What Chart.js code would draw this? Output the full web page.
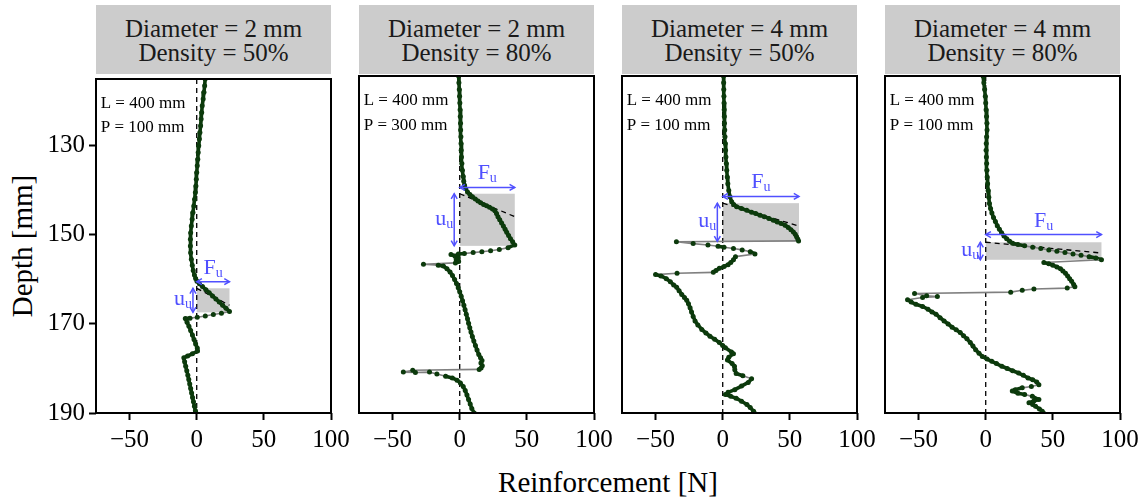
<!DOCTYPE html>
<html>
<head>
<meta charset="utf-8">
<script src="https://cdn.jsdelivr.net/npm/chart.js@4.4.1/dist/chart.umd.min.js"></script>
<style>
  html, body { margin: 0; padding: 0; background: #ffffff; }
  body { width: 1147px; height: 500px; position: relative; overflow: hidden; font-family: "Liberation Serif", "DejaVu Serif", serif; }
  .strip { position: absolute; top: 5px; height: 69px; width: 235px; background: #cccccc; color: #1a1a1a;
           display: flex; flex-direction: column; justify-content: center; align-items: center;
           font-size: 25px; line-height: 24px; padding-top: 2px; box-sizing: border-box; }
  .ytitle { position: absolute; left: 22px; top: 246px; transform: translate(-50%, -50%) rotate(-90deg);
            font-size: 29px; white-space: nowrap; color: #000; }
  .xtitle { position: absolute; left: 608px; top: 482px; transform: translate(-50%, -50%);
            font-size: 29px; white-space: nowrap; color: #000; }
  canvas { position: absolute; }
</style>
</head>
<body>
<div class="ytitle">Depth [mm]</div>
<div class="xtitle">Reinforcement [N]</div>
<script>
// ---------- tick labels / categories ----------
const xTicks = [-50, 0, 50, 100];
const yTicks = [130, 150, 170, 190];
const stripTop = ['Diameter = 2 mm', 'Diameter = 2 mm', 'Diameter = 4 mm', 'Diameter = 4 mm'];
const stripBottom = ['Density = 50%', 'Density = 80%', 'Density = 50%', 'Density = 80%'];
const lengthNotes = ['L = 400 mm', 'L = 400 mm', 'L = 400 mm', 'L = 400 mm'];
const spacingNotes = ['P = 100 mm', 'P = 300 mm', 'P = 100 mm', 'P = 100 mm'];

// ---------- series: depth [mm] and reinforcement force [N] ----------
const depth1 = [115.0,116.5,118.0,119.5,121.0,122.5,124.0,125.5,127.0,128.5,130.0,131.5,133.0,134.5,136.0,137.5,139.0,140.5,142.0,143.5,145.0,146.5,148.0,149.5,151.0,152.5,154.0,155.5,156.8,158.0,159.0,159.8,160.4,161.0,161.6,162.3,163.0,163.7,164.4,165.1,165.8,166.5,167.2,167.6,167.9,168.2,168.5,168.7,168.8,169.6,170.5,171.5,172.5,173.5,174.5,175.4,176.1,176.7,177.2,177.6,178.5,179.5,180.5,181.5,182.5,183.5,184.5,185.5,186.5,187.5,188.5,189.5,190.0];
const force1 = [6.3,5.9,5.4,4.8,4.1,3.7,3.3,2.9,2.4,2.0,1.5,1.1,0.8,0.4,0.0,-0.3,-0.6,-1.0,-1.6,-2.2,-2.8,-3.4,-4.0,-4.5,-4.7,-4.7,-4.5,-4.0,-3.3,-2.6,-1.7,-0.8,0.2,2.0,4.3,6.8,9.3,11.8,14.3,16.8,19.3,21.8,24.4,18.4,12.4,6.4,0.4,-5.0,-8.5,-7.2,-5.8,-4.5,-3.2,-2.0,-0.8,0.4,0.6,-3.2,-6.8,-9.6,-9.0,-8.2,-7.4,-6.6,-5.9,-5.2,-4.5,-3.8,-3.1,-2.4,-1.7,-1.0,-0.6];

const depth2 = [115.0,116.5,118.0,119.5,121.0,122.5,124.0,125.5,127.0,128.5,130.0,131.5,133.0,134.5,136.0,137.3,138.4,139.3,140.1,140.8,141.4,141.9,142.4,142.8,143.2,143.6,143.9,144.2,144.6,145.0,145.6,146.3,147.0,147.7,148.4,149.1,149.8,150.5,151.2,151.9,152.6,153.2,153.6,153.9,154.1,154.3,154.5,154.6,154.7,155.1,155.5,155.9,156.3,156.6,156.9,157.1,157.3,157.9,158.6,159.4,160.3,161.2,162.1,163.0,164.0,165.0,166.0,167.0,168.0,169.0,170.0,171.0,172.0,173.0,174.0,175.0,176.0,177.0,177.7,178.3,178.9,179.5,180.0,180.3,180.5,180.9,181.0,180.9,181.3,181.8,182.2,182.7,183.3,184.1,185.0,186.0,187.0,188.0,189.0,190.0];
const force2 = [-0.8,-0.6,-0.3,-0.1,0.1,0.3,0.4,0.6,0.7,0.9,1.0,1.1,1.3,1.6,2.0,2.5,3.0,3.6,4.5,5.8,7.6,9.5,11.6,13.6,15.6,17.8,20.0,22.2,24.4,26.2,27.4,28.5,29.8,31.2,32.5,33.8,35.0,36.4,37.8,39.4,41.0,36.0,29.5,23.0,16.5,10.0,3.5,-1.0,-6.5,-3.5,-1.2,-2.6,-0.8,-3.2,-27.0,-16.0,-12.2,-9.5,-7.2,-5.4,-3.8,-2.4,-1.1,0.0,1.1,2.1,3.1,4.0,4.9,5.8,6.6,7.5,8.4,9.4,10.5,11.7,12.9,14.2,15.5,16.6,15.8,16.8,15.9,14.5,-35.0,-42.0,-33.0,-22.5,-17.0,-10.5,-5.5,-2.0,0.5,2.6,4.1,5.4,6.6,7.8,9.0,10.8];

const depth3 = [115.0,116.5,118.0,119.5,121.0,122.5,124.0,125.5,127.0,128.5,130.0,131.5,133.0,134.5,136.0,137.5,139.0,140.5,141.9,143.0,143.6,144.1,144.5,144.9,145.3,145.6,146.0,146.3,146.7,147.1,147.5,147.8,148.2,148.7,149.2,149.7,150.2,150.8,151.3,151.7,151.9,152.3,152.6,152.9,153.1,153.4,153.7,154.1,154.6,155.2,155.9,156.5,157.0,157.4,157.8,158.3,158.7,158.9,159.2,159.5,160.1,160.8,161.5,162.0,162.8,163.6,164.3,164.9,165.7,166.6,167.5,168.5,169.5,170.4,171.4,172.2,172.9,173.6,174.3,175.0,175.5,176.4,176.8,177.6,178.2,179.0,179.6,180.4,181.2,181.7,182.4,183.2,184.0,184.8,185.4,185.9,186.3,186.7,187.4,188.1,188.8,189.6,190.0];
const force3 = [0.6,0.7,0.8,0.9,1.0,1.1,1.2,1.3,1.5,1.7,1.9,2.1,2.4,2.7,3.0,3.4,3.8,4.5,5.4,6.7,8.2,10.4,14.0,17.9,21.5,24.6,27.8,31.0,34.4,37.7,40.6,43.5,46.4,48.8,50.8,52.6,54.0,55.0,55.9,56.5,-34.5,-22.0,-11.0,-3.5,1.0,8.0,14.5,20.5,24.0,9.5,8.0,6.0,4.0,1.0,-2.5,-5.0,-7.0,-34.0,-50.0,-46.0,-42.0,-39.0,-36.5,-34.3,-32.5,-30.5,-28.5,-26.8,-25.5,-24.3,-23.2,-22.0,-20.6,-18.5,-15.6,-12.5,-9.5,-6.0,-2.5,0.0,2.0,6.5,8.0,4.5,3.5,7.0,8.7,9.0,10.0,15.0,21.5,19.0,14.0,9.0,4.0,2.0,6.0,10.0,14.0,18.0,20.5,23.0,23.5];

const depth4 = [115.0,116.5,118.0,119.5,121.0,122.5,124.0,125.5,127.0,128.5,130.0,131.5,133.0,134.5,136.0,137.5,139.0,140.5,142.0,143.4,144.5,145.5,146.5,147.4,148.3,149.1,149.9,150.6,151.2,151.8,152.2,152.5,152.8,153.1,153.4,153.7,154.0,154.3,154.6,154.9,155.2,155.5,155.9,156.5,156.8,157.1,157.5,157.9,158.4,158.9,159.5,160.1,160.7,161.4,161.9,162.2,162.4,162.7,163.1,163.4,163.9,164.1,164.3,164.8,165.3,165.8,166.3,166.9,167.5,168.0,168.8,169.5,170.2,170.9,171.5,172.1,172.8,173.5,174.3,175.1,175.9,176.7,177.4,178.0,178.5,179.0,179.6,180.1,180.6,181.1,181.6,182.2,182.6,183.1,183.7,184.1,184.4,184.8,185.1,185.6,185.9,186.3,187.0,187.3,187.7,188.1,188.5,189.1,189.6,190.0];
const force4 = [-2.0,-1.4,-0.8,-0.3,0.0,0.3,0.6,0.9,1.0,0.7,0.4,0.3,0.5,0.7,0.9,1.1,1.4,1.8,2.3,2.8,3.6,4.6,5.8,7.2,8.6,10.2,11.8,13.6,15.6,17.8,20.0,24.0,29.0,35.0,41.0,47.0,53.0,59.0,65.0,71.0,77.0,82.0,86.2,43.3,47.0,50.0,53.0,55.7,57.5,59.4,61.0,62.5,64.0,65.5,66.4,60.7,35.9,27.2,18.6,-53.0,-44.0,-36.0,-47.0,-58.2,-55.5,-52.0,-47.0,-43.0,-40.0,-37.0,-34.0,-31.0,-28.0,-25.0,-22.0,-19.0,-16.5,-14.0,-11.5,-9.5,-7.5,-5.0,-2.5,1.0,4.5,8.0,12.0,16.0,20.0,24.5,28.0,31.5,35.0,38.0,39.6,34.0,27.2,22.0,19.8,24.0,29.0,34.7,39.6,36.0,32.2,35.0,37.1,40.0,42.1,43.0];

// ---------- softening-zone annotation values ----------
const ultimateForce = [24.4, 41.0, 56.8, 86.2];     // F_u [N]
const softTop = [162.0, 141.2, 143.3, 152.0];       // depth where softening starts [mm]
const softBottom = [167.4, 152.8, 151.8, 155.9];    // depth where softening ends [mm]
const trendEndDepth = [165.8, 146.3, 148.4, 154.4]; // dashed trend end depth at F_u
const fuArrowDepth = [160.5, 139.8, 141.8, 150.3];  // depth of F_u arrow
const uuArrowForce = [-2.8, -4.1, -4.0, -4.0];      // force position of u_u arrow
const noteForce = -71.5;
const noteDepths = [121.4, 127.0];

const depthSets = [depth1, depth2, depth3, depth4];
const forceSets = [force1, force2, force3, force4];

// ---------- layout / style ----------
const panelLefts = [96, 359, 622, 885];
const panelWidth = 235;
const GREEN = '#0c3a0c';
const GRAY = '#808080';
const BLUE = '#5050ff';
const SERIF = '"Liberation Serif", "DejaVu Serif", serif';

function arrowHead(ctx, x, y, ang) {
  const L = 6, a = Math.PI / 6;
  ctx.beginPath();
  ctx.moveTo(x - L * Math.cos(ang - a), y - L * Math.sin(ang - a));
  ctx.lineTo(x, y);
  ctx.lineTo(x - L * Math.cos(ang + a), y - L * Math.sin(ang + a));
  ctx.stroke();
}
function doubleArrow(ctx, x1, y1, x2, y2) {
  ctx.beginPath(); ctx.moveTo(x1, y1); ctx.lineTo(x2, y2); ctx.stroke();
  arrowHead(ctx, x2, y2, Math.atan2(y2 - y1, x2 - x1));
  arrowHead(ctx, x1, y1, Math.atan2(y1 - y2, x1 - x2));
}
function subText(ctx, main, sub, x, baseline, align) {
  const mf = '22px ' + SERIF, sf = '14px ' + SERIF;
  ctx.font = mf; const w1 = ctx.measureText(main).width;
  ctx.font = sf; const w2 = ctx.measureText(sub).width;
  let left = x;
  if (align === 'center') left = x - (w1 + w2) / 2;
  if (align === 'right') left = x - w1 - w2;
  ctx.textAlign = 'left'; ctx.textBaseline = 'alphabetic';
  ctx.font = mf; ctx.fillText(main, left, baseline);
  ctx.font = sf; ctx.fillText(sub, left + w1, baseline + 3);
}

function makePlugin(k) {
  return {
    id: 'softzone' + k,
    beforeDatasetsDraw(chart) {
      const { ctx } = chart; const xs = chart.scales.x, ys = chart.scales.y;
      const x0 = xs.getPixelForValue(0), x1 = xs.getPixelForValue(ultimateForce[k]);
      const y0 = ys.getPixelForValue(softTop[k]), y1 = ys.getPixelForValue(softBottom[k]);
      ctx.save();
      ctx.fillStyle = '#cccccc';
      ctx.fillRect(x0, y0, x1 - x0, y1 - y0);
      ctx.restore();
    },
    afterDatasetsDraw(chart) {
      const { ctx, chartArea } = chart; const xs = chart.scales.x, ys = chart.scales.y;
      ctx.save();
      ctx.strokeStyle = BLUE; ctx.fillStyle = BLUE; ctx.lineWidth = 1.5;
      const ay = ys.getPixelForValue(fuArrowDepth[k]);
      const ax0 = xs.getPixelForValue(0), ax1 = xs.getPixelForValue(ultimateForce[k]);
      doubleArrow(ctx, ax0, ay, ax1, ay);
      subText(ctx, 'F', 'u', xs.getPixelForValue(ultimateForce[k] / 2), ay - 8, 'center');
      const ux = xs.getPixelForValue(uuArrowForce[k]);
      const uy0 = ys.getPixelForValue(softTop[k]), uy1 = ys.getPixelForValue(softBottom[k]);
      doubleArrow(ctx, ux, uy0, ux, uy1);
      subText(ctx, 'u', 'u', ux - 1, (uy0 + uy1) / 2 + 5, 'right');
      ctx.fillStyle = '#000'; ctx.font = '17px ' + SERIF; ctx.textAlign = 'left'; ctx.textBaseline = 'alphabetic';
      ctx.fillText(lengthNotes[k], xs.getPixelForValue(noteForce), ys.getPixelForValue(noteDepths[0]));
      ctx.fillText(spacingNotes[k], xs.getPixelForValue(noteForce), ys.getPixelForValue(noteDepths[1]));
      ctx.strokeStyle = '#000'; ctx.lineWidth = 2;
      ctx.strokeRect(chartArea.left, chartArea.top, chartArea.right - chartArea.left, chartArea.bottom - chartArea.top);
      ctx.restore();
    }
  };
}

const isJump = c => Math.abs(c.p1.x - c.p0.x) > 7;

function makePanel(k) {
  const strip = document.createElement('div');
  strip.className = 'strip';
  strip.style.left = panelLefts[k] + 'px';
  strip.innerHTML = '<div>' + stripTop[k] + '</div><div>' + stripBottom[k] + '</div>';
  document.body.appendChild(strip);

  const first = k === 0;
  const padLeft = first ? 0 : 12;
  const yAxisW = first ? 96 : 0;
  const canvasLeft = first ? 0 : panelLefts[k] - padLeft;
  const padRight = 24;
  const W = (first ? panelLefts[k] : padLeft) + panelWidth + padRight;
  const H = 408;
  const canvas = document.createElement('canvas');
  canvas.width = W; canvas.height = H;
  canvas.style.left = canvasLeft + 'px'; canvas.style.top = '60px';
  canvas.style.width = W + 'px'; canvas.style.height = H + 'px';
  document.body.appendChild(canvas);

  const pts = depthSets[k].map((d, i) => ({ x: forceSets[k][i], y: d }));

  new Chart(canvas, {
    type: 'scatter',
    data: {
      datasets: [
        {
          data: pts, showLine: true, order: 0,
          borderColor: GREEN, borderWidth: 3.6, tension: 0,
          borderJoinStyle: 'round', borderCapStyle: 'round',
          pointRadius: 2.5, pointBackgroundColor: GREEN, pointBorderWidth: 0, pointHoverRadius: 2.5,
          segment: {
            borderColor: c => isJump(c) ? GRAY : GREEN,
            borderWidth: c => isJump(c) ? 1.6 : 3.6
          }
        },
        {
          data: [{ x: 0, y: softTop[k] }, { x: ultimateForce[k], y: trendEndDepth[k] }],
          showLine: true, order: 1, borderColor: '#000', borderWidth: 1.3, borderDash: [5, 4], pointRadius: 0
        },
        {
          data: [{ x: 0, y: 115 }, { x: 0, y: 190 }],
          showLine: true, order: 2, borderColor: '#000', borderWidth: 1.3, borderDash: [5, 4], pointRadius: 0
        }
      ]
    },
    options: {
      responsive: false, animation: false, devicePixelRatio: 1, events: [],
      layout: { padding: { left: padLeft, right: padRight, top: 16, bottom: 0 } },
      plugins: { legend: { display: false }, tooltip: { enabled: false }, title: { display: false } },
      scales: {
        x: {
          type: 'linear', min: -75, max: 100,
          afterBuildTicks: s => { s.ticks = xTicks.map(v => ({ value: v })); },
          afterFit: s => { s.height = 55; },
          border: { display: false },
          grid: { display: true, drawOnChartArea: false, drawTicks: true, tickLength: 7, tickWidth: 2, tickColor: '#000' },
          ticks: { color: '#000', padding: 5, maxRotation: 0, autoSkip: false,
                   font: { family: SERIF, size: 25 },
                   callback: v => v < 0 ? '\u2212' + Math.abs(v) : String(v) }
        },
        y: {
          type: 'linear', min: 115, max: 190, reverse: true, display: first,
          afterBuildTicks: s => { s.ticks = yTicks.map(v => ({ value: v })); },
          afterFit: s => { s.width = yAxisW; },
          border: { display: false },
          grid: { display: true, drawOnChartArea: false, drawTicks: true, tickLength: 7, tickWidth: 2, tickColor: '#000' },
          ticks: { color: '#000', padding: 4, autoSkip: false, font: { family: SERIF, size: 25 } }
        }
      }
    },
    plugins: [makePlugin(k)]
  });
}

for (let k = 0; k < 4; k++) makePanel(k);
</script>
</body>
</html>
